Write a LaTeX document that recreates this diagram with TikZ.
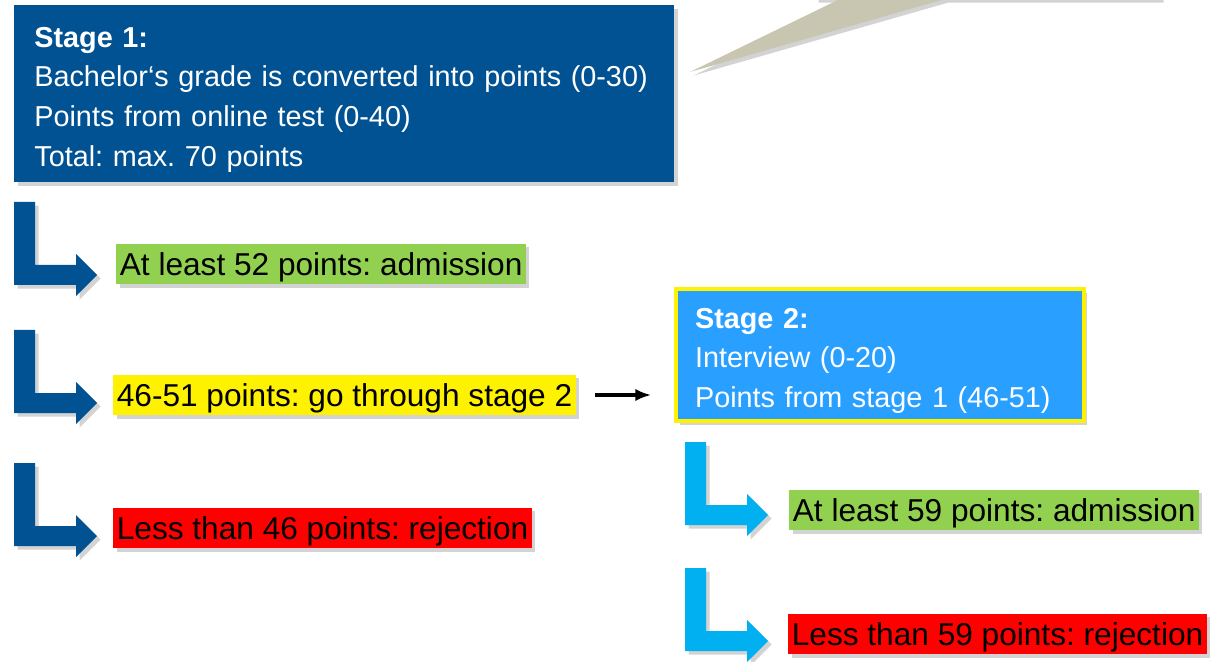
\documentclass[tikz,border=0pt]{standalone}
\usepackage{fontspec}
\setmainfont{Liberation Sans}
\frenchspacing
\usetikzlibrary{shadows,arrows.meta}
\definecolor{stageblue}{RGB}{0,82,147}
\definecolor{arrowcyan}{RGB}{0,176,240}
\definecolor{stagetwo}{RGB}{41,160,255}
\definecolor{okgreen}{RGB}{146,208,80}
\definecolor{calloutgray}{RGB}{200,197,177}
\newcommand{\stagehead}[1]{\rule{0pt}{18.2pt}\textbf{#1}}
\tikzset{
  soft/.style={drop shadow={shadow xshift=2pt,shadow yshift=-2pt,opacity=0.35}},
  stagebox/.style={soft,align=left,text=white,inner ysep=0pt,font=\fontsize{16.4}{22.7}\selectfont},
  result/.style={soft,anchor=west,inner xsep=2pt,inner ysep=0pt,minimum height=23.2pt,text height=12.9pt,text depth=0pt,font=\fontsize{18}{20}\selectfont},
  pics/larrow/.style={code={\fill[#1,soft] (0,0) -- (21,0) -- (21,63) -- (62,63) -- (62,52) -- (83,73) -- (62,94) -- (62,83) -- (0,83) -- cycle;}}
}
\begin{document}
\begin{tikzpicture}[x=0.02cm,y=-0.02cm]
    \useasboundingbox (0,0) rectangle (1221,662);
    \fill[calloutgray,soft] (815,-60) -- (815,-1) -- (840,-1) -- (690,72) -- (945,-1) -- (1160,-1) -- (1160,-60) -- cycle;
    \node[stagebox,fill=stageblue,text width=12.4cm,inner xsep=0.4cm,minimum height=3.54cm,anchor=north west] (stage1) at (14,5)
        {\stagehead{Stage 1:}\\Bachelor‘s grade is converted into points (0-30)\\Points from online test (0-40)\\Total: max. 70 points};
    \node[stagebox,fill=stagetwo,draw=yellow,line width=2.27pt,text width=7.4cm,inner xsep=0.38cm,minimum height=2.64cm] (stage2) at (880,355)
        {\stagehead{Stage 2:}\\Interview (0-20)\\Points from stage 1 (46-51)};
    \node[result,fill=okgreen] (admit1) at (116,264) {At least 52 points: admission};
    \node[result,fill=yellow] (gostage2) at (113,395) {46-51 points: go through stage 2};
    \node[result,fill=red] (reject1) at (113,528) {Less than 46 points: rejection};
    \node[result,fill=okgreen] (admit2) at (789,510) {At least 59 points: admission};
    \node[result,fill=red] (reject2) at (788,634) {Less than 59 points: rejection};
    \pic at (14,202) {larrow=stageblue};
    \pic at (14,330) {larrow=stageblue};
    \pic at (14,463) {larrow=stageblue};
    \pic at (685,442) {larrow=arrowcyan};
    \pic at (685,568) {larrow=arrowcyan};
    \draw[line width=1.9pt,-{Latex[length=9pt,width=7pt]},shorten <=10.8pt,shorten >=13pt] (gostage2.east) -- (gostage2.east -| stage2.west);
\end{tikzpicture}
\end{document}
